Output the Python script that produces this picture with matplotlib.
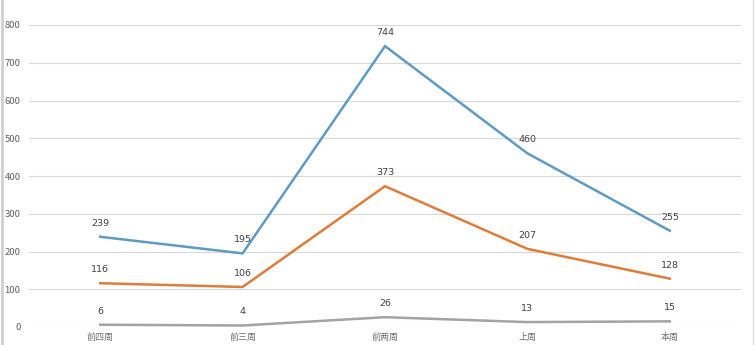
import matplotlib
matplotlib.use("Agg")
import matplotlib.pyplot as plt

plt.rcParams["font.family"] = ["Noto Sans CJK SC", "DejaVu Sans"]

# weekly counts
weeks = ["前四周", "前三周", "前两周", "上周", "本周"]
series_blue = [239, 195, 744, 460, 255]
series_orange = [116, 106, 373, 207, 128]
series_gray = [6, 4, 26, 13, 15]
y_ticks = [0, 100, 200, 300, 400, 500, 600, 700, 800]

colors = ["#5e9bc4", "#e07c3a", "#a3a3a3"]

fig = plt.figure(figsize=(7.55, 3.45), dpi=100)
ax = fig.add_axes([29 / 755, 18 / 345, 712 / 755, 302 / 345])

x = list(range(len(weeks)))
for vals, c in zip([series_blue, series_orange, series_gray], colors):
    ax.plot(x, vals, color=c, lw=1.8, solid_joinstyle="miter")
    for xi, v in zip(x, vals):
        ax.annotate(str(v), (xi, v), xytext=(0, 6.5), textcoords="offset points",
                    ha="center", va="bottom", fontsize=6.8, color="#404040",
                    family=["DejaVu Sans"])

ax.set_xlim(-0.5, len(weeks) - 0.5)
ax.set_ylim(0, 800)
ax.set_yticks(y_ticks)
ax.set_xticks(x)
ax.set_xticklabels(weeks, fontsize=6.5, color="#707070")
ax.tick_params(axis="y", labelsize=6.8, labelcolor="#606060", length=0, pad=6)
ax.tick_params(axis="x", length=0, pad=4)
ax.grid(axis="y", color="#d9d9d9", lw=0.8)
ax.set_axisbelow(True)
for s in ax.spines.values():
    s.set_visible(False)

# light frame on the outer edges
fig.add_artist(plt.Line2D([1.5 / 755, 1.5 / 755], [0, 1], color="#d0d0d0", lw=2))
fig.add_artist(plt.Line2D([753 / 755, 753 / 755], [0, 1], color="#e0e0e0", lw=1))

fig.savefig("out.png", dpi=100)
